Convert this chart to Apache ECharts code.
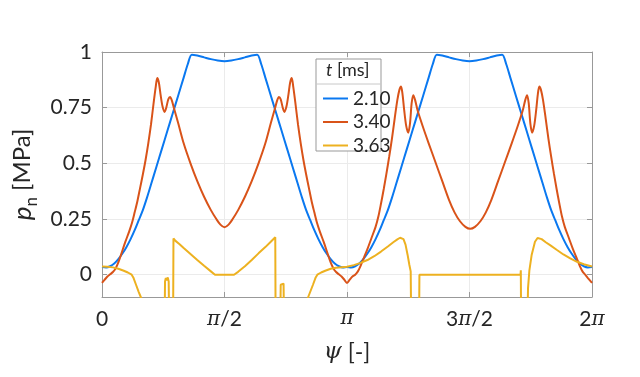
<!DOCTYPE html>
<html>
<head>
<meta charset="utf-8">
<script src="https://cdn.jsdelivr.net/npm/echarts@6/dist/echarts.min.js"></script>
<style>
  html, body { margin: 0; padding: 0; background: #fff; }
  #chart { width: 640px; height: 377px; }
</style>
</head>
<body>
<div id="chart"></div>
<script>
// psi in degrees (0..360 = 0..2pi), pressure in MPa
var psiBlue = [0, 3, 6, 9, 12, 15, 18, 21, 24, 27, 30, 33, 36, 40, 44, 48, 52, 56, 60, 63, 66, 70, 75, 80, 85, 90,
  95, 100, 105, 110, 114, 117, 120, 124, 128, 132, 136, 140, 144, 147, 150, 153, 156, 159, 162, 165, 168, 171, 174, 177, 180,
  183, 186, 189, 192, 195, 198, 201, 204, 207, 210, 213, 216, 220, 224, 228, 232, 236, 240, 243, 246, 250, 255, 260, 265, 270,
  275, 280, 285, 290, 294, 297, 300, 304, 308, 312, 316, 320, 324, 327, 330, 333, 336, 339, 342, 345, 348, 351, 354, 357, 360];
var pBlue = [0.035, 0.033, 0.038, 0.05, 0.07, 0.095, 0.125, 0.16, 0.2, 0.245, 0.29, 0.345, 0.405, 0.485, 0.565, 0.645, 0.725, 0.805, 0.885, 0.945, 0.988, 0.984, 0.976, 0.968, 0.962, 0.959,
  0.962, 0.968, 0.976, 0.984, 0.988, 0.945, 0.885, 0.805, 0.725, 0.645, 0.565, 0.485, 0.405, 0.345, 0.29, 0.245, 0.2, 0.16, 0.125, 0.095, 0.07, 0.05, 0.038, 0.033, 0.035,
  0.033, 0.038, 0.05, 0.07, 0.095, 0.125, 0.16, 0.2, 0.245, 0.29, 0.345, 0.405, 0.485, 0.565, 0.645, 0.725, 0.805, 0.885, 0.945, 0.988, 0.984, 0.976, 0.968, 0.962, 0.959,
  0.962, 0.968, 0.976, 0.984, 0.988, 0.945, 0.885, 0.805, 0.725, 0.645, 0.565, 0.485, 0.405, 0.345, 0.29, 0.245, 0.2, 0.16, 0.125, 0.095, 0.07, 0.05, 0.038, 0.033, 0.035];

var psiOrange = [0, 2, 4, 6, 8, 10, 12, 14, 17, 20, 22, 24, 26, 28, 30, 32, 34, 36, 38, 39.5, 40.6, 41.8, 43, 44.5, 46, 47.2, 48.7, 50, 51.3, 53, 56, 60, 65, 70, 75, 80, 84, 87, 90,
  93, 96, 100, 105, 110, 115, 120, 124, 127, 128.7, 130, 131.3, 132.8, 134, 135.5, 137, 138.2, 139.4, 140.5, 142, 144, 146, 148, 150, 152, 154, 156, 158, 160, 163, 166, 168, 170, 172, 174, 176, 178, 180,
  182, 184, 186, 188, 190, 192, 195, 198, 201, 203, 205, 207, 209, 211, 213, 215, 217, 218.5, 219.7, 220.8, 222, 223.5, 225, 226.3, 227.5, 228.7, 230, 232, 236, 240, 245, 250, 255, 259, 263, 267, 270.5,
  274, 278, 282, 286, 291, 296, 301, 305, 309, 311, 312.3, 313.5, 314.7, 316, 317.5, 319, 320.2, 321.3, 322.5, 324, 326, 328, 330, 332, 334, 336, 338, 340, 343, 346, 349, 351, 353, 355, 357, 360];
var pOrange = [-0.037, -0.022, -0.008, 0.002, 0.012, 0.028, 0.055, 0.09, 0.145, 0.195, 0.232, 0.28, 0.33, 0.39, 0.45, 0.515, 0.59, 0.675, 0.775, 0.845, 0.883, 0.862, 0.81, 0.755, 0.731, 0.75, 0.787, 0.798, 0.783, 0.745, 0.68, 0.59, 0.5, 0.42, 0.35, 0.29, 0.25, 0.225, 0.213,
  0.225, 0.25, 0.29, 0.35, 0.42, 0.5, 0.59, 0.68, 0.745, 0.783, 0.798, 0.787, 0.75, 0.731, 0.755, 0.81, 0.862, 0.883, 0.845, 0.775, 0.675, 0.59, 0.515, 0.45, 0.39, 0.33, 0.28, 0.232, 0.195, 0.145, 0.09, 0.055, 0.028, 0.012, 0.002, -0.008, -0.022, -0.037,
  -0.022, -0.008, 0.0, 0.015, 0.04, 0.07, 0.115, 0.165, 0.215, 0.26, 0.32, 0.385, 0.455, 0.53, 0.61, 0.7, 0.785, 0.83, 0.845, 0.81, 0.74, 0.668, 0.638, 0.68, 0.77, 0.806, 0.785, 0.735, 0.66, 0.59, 0.505, 0.42, 0.335, 0.28, 0.24, 0.215, 0.206,
  0.215, 0.24, 0.28, 0.335, 0.42, 0.505, 0.59, 0.66, 0.735, 0.785, 0.806, 0.77, 0.68, 0.638, 0.668, 0.74, 0.81, 0.845, 0.83, 0.785, 0.7, 0.61, 0.53, 0.455, 0.385, 0.32, 0.26, 0.215, 0.165, 0.115, 0.07, 0.04, 0.015, 0.0, -0.015, -0.037];

// values below -0.1 run off the bottom of the axes
var psiYellow = [0, 4, 8, 12, 16, 19, 21.8, 23, 25, 27, 28.5, 30, 45.9, 46.3, 46.9, 47.6, 48.3, 49, 49.5, 52.2, 52.5, 54, 57, 60, 65, 70, 75, 80, 83, 97,
  100, 105, 110, 115, 120, 124, 127.3, 127.6, 130.8, 131.3, 132, 132.7, 133.4, 133.9, 150, 151.5, 155, 157, 158.2, 161, 164, 168, 172, 176, 180,
  185, 190, 195, 200, 205, 210, 214, 217, 219, 220.3, 221.5, 223, 224.5, 225.8, 226.8, 227.3, 232.9, 233.2, 307.5, 307.7, 308, 312.3,
  313, 314, 315.7, 318.1, 320, 321.3, 323, 326, 329.2, 334, 339, 344, 349, 354, 360];
var pYellow = [0.037, 0.036, 0.033, 0.027, 0.018, 0.01, 0.0, -0.012, -0.045, -0.078, -0.1, -0.13, -0.3, -0.03, -0.015, -0.025, -0.012, -0.03, -0.3, -0.3, 0.163, 0.152, 0.137, 0.12, 0.093, 0.066, 0.04, 0.015, 0.0, 0.0,
  0.013, 0.038, 0.066, 0.096, 0.124, 0.148, 0.168, -0.3, -0.3, -0.045, -0.04, -0.05, -0.04, -0.3, -0.13, -0.1, -0.045, -0.012, 0.0, 0.01, 0.018, 0.027, 0.031, 0.034, 0.036,
  0.043, 0.053, 0.066, 0.083, 0.104, 0.127, 0.146, 0.159, 0.166, 0.168, 0.16, 0.135, 0.09, 0.045, 0.015, -0.3, -0.3, 0.0, 0.0, 0.02, -0.3, -0.3,
  -0.06, 0.02, 0.09, 0.148, 0.165, 0.168, 0.16, 0.146, 0.133, 0.112, 0.091, 0.073, 0.058, 0.047, 0.037];

var seriesNames = ['2.10', '3.40', '3.63'];
var seriesColors = ['#0a78f0', '#d95319', '#edb120'];
var xTickLabels = {0: '0', 90: '{pi|π}/2', 180: '{pi|π}', 270: '3{pi|π}/2', 360: '2{pi|π}'};
var yTicks = [0, 0.25, 0.5, 0.75, 1];

function zip(xs, ys) {
  return xs.map(function(x, i) { return [x, ys[i]]; });
}

var font = 'Lato';
var textColor = '#262626';
var boxColor = '#999999';

var chart = echarts.init(document.getElementById('chart'));

var option = {
  animation: false,
  textStyle: { fontFamily: font },
  grid: { left: 102, right: 48, top: 52, bottom: 80 },
  xAxis: [
    {
      type: 'value', min: 0, max: 360, interval: 90,
      name: '{psi|ψ} [-]', nameLocation: 'middle', nameGap: 44,
      nameTextStyle: {
        color: textColor, fontSize: 23, fontFamily: font,
        rich: { psi: { fontFamily: 'DejaVu Serif', fontStyle: 'italic', fontSize: 23, color: textColor } }
      },
      axisLine: { show: true, onZero: false, lineStyle: { color: boxColor } },
      axisTick: { show: true, inside: true, length: 5, lineStyle: { color: boxColor } },
      axisLabel: {
        color: textColor, fontSize: 21, margin: 12,
        formatter: function(v) { return xTickLabels[v]; },
        rich: { pi: { fontFamily: 'DejaVu Serif', fontStyle: 'italic', fontSize: 20, color: textColor } }
      },
      splitLine: { show: true, lineStyle: { color: '#ebebeb' } }
    },
    {
      type: 'value', min: 0, max: 360, interval: 90, position: 'top',
      axisLine: { show: true, onZero: false, lineStyle: { color: boxColor } },
      axisTick: { show: true, inside: true, length: 5, lineStyle: { color: boxColor } },
      axisLabel: { show: false },
      splitLine: { show: false }
    }
  ],
  yAxis: [
    {
      type: 'value', min: -0.1, max: 1,
      name: '{p|p}{n|n}{u| [MPa]}', nameLocation: 'middle', nameRotate: 90, nameGap: 56,
      nameTextStyle: {
        color: textColor,
        rich: {
          p: { fontSize: 26, fontStyle: 'italic', fontFamily: font, color: textColor, lineHeight: 34, verticalAlign: 'middle' },
          n: { fontSize: 17, fontFamily: font, color: textColor, lineHeight: 34, verticalAlign: 'bottom' },
          u: { fontSize: 24, fontFamily: font, color: textColor, lineHeight: 34, verticalAlign: 'middle' }
        }
      },
      axisLine: { show: true, onZero: false, lineStyle: { color: boxColor } },
      axisTick: { show: true, inside: true, length: 5, customValues: yTicks, lineStyle: { color: boxColor } },
      axisLabel: { color: textColor, fontSize: 21, margin: 10, customValues: yTicks },
      splitLine: { show: true, lineStyle: { color: '#ebebeb' } }
    },
    {
      type: 'value', min: -0.1, max: 1, position: 'right',
      axisLine: { show: true, onZero: false, lineStyle: { color: boxColor } },
      axisTick: { show: true, inside: true, length: 5, customValues: yTicks, lineStyle: { color: boxColor } },
      axisLabel: { show: false },
      splitLine: { show: false }
    }
  ],
  legend: {
    orient: 'vertical', left: 318, top: 84, z: 20,
    icon: 'rect', itemWidth: 25, itemHeight: 2, itemGap: 4.5,
    textStyle: { color: textColor, fontSize: 19, fontFamily: font },
    data: seriesNames
  },
  graphic: [
    { type: 'rect', z: 10, shape: { x: 316, y: 59, width: 65, height: 92 },
      style: { fill: '#fff', stroke: boxColor, lineWidth: 1 } },
    { type: 'line', z: 11, shape: { x1: 316, y1: 84, x2: 381, y2: 84 },
      style: { stroke: '#c8c8c8', lineWidth: 1 } },
    { type: 'text', z: 12, left: 326, top: 61,
      style: { text: '{t|t} [ms]', fill: textColor, fontSize: 18, fontFamily: font,
        rich: { t: { fontStyle: 'italic', fontSize: 18, fontFamily: font, fill: textColor } } } }
  ],
  series: [
    { name: seriesNames[0], type: 'line', data: zip(psiBlue, pBlue), showSymbol: false, symbol: 'none', smooth: 0.3,
      lineStyle: { width: 2, color: seriesColors[0] }, itemStyle: { color: seriesColors[0] } },
    { name: seriesNames[1], type: 'line', data: zip(psiOrange, pOrange), showSymbol: false, symbol: 'none', smooth: 0.3,
      lineStyle: { width: 2, color: seriesColors[1] }, itemStyle: { color: seriesColors[1] } },
    { name: seriesNames[2], type: 'line', data: zip(psiYellow, pYellow), showSymbol: false, symbol: 'none',
      lineStyle: { width: 2, color: seriesColors[2] }, itemStyle: { color: seriesColors[2] } }
  ]
};

chart.setOption(option);
</script>
</body>
</html>
